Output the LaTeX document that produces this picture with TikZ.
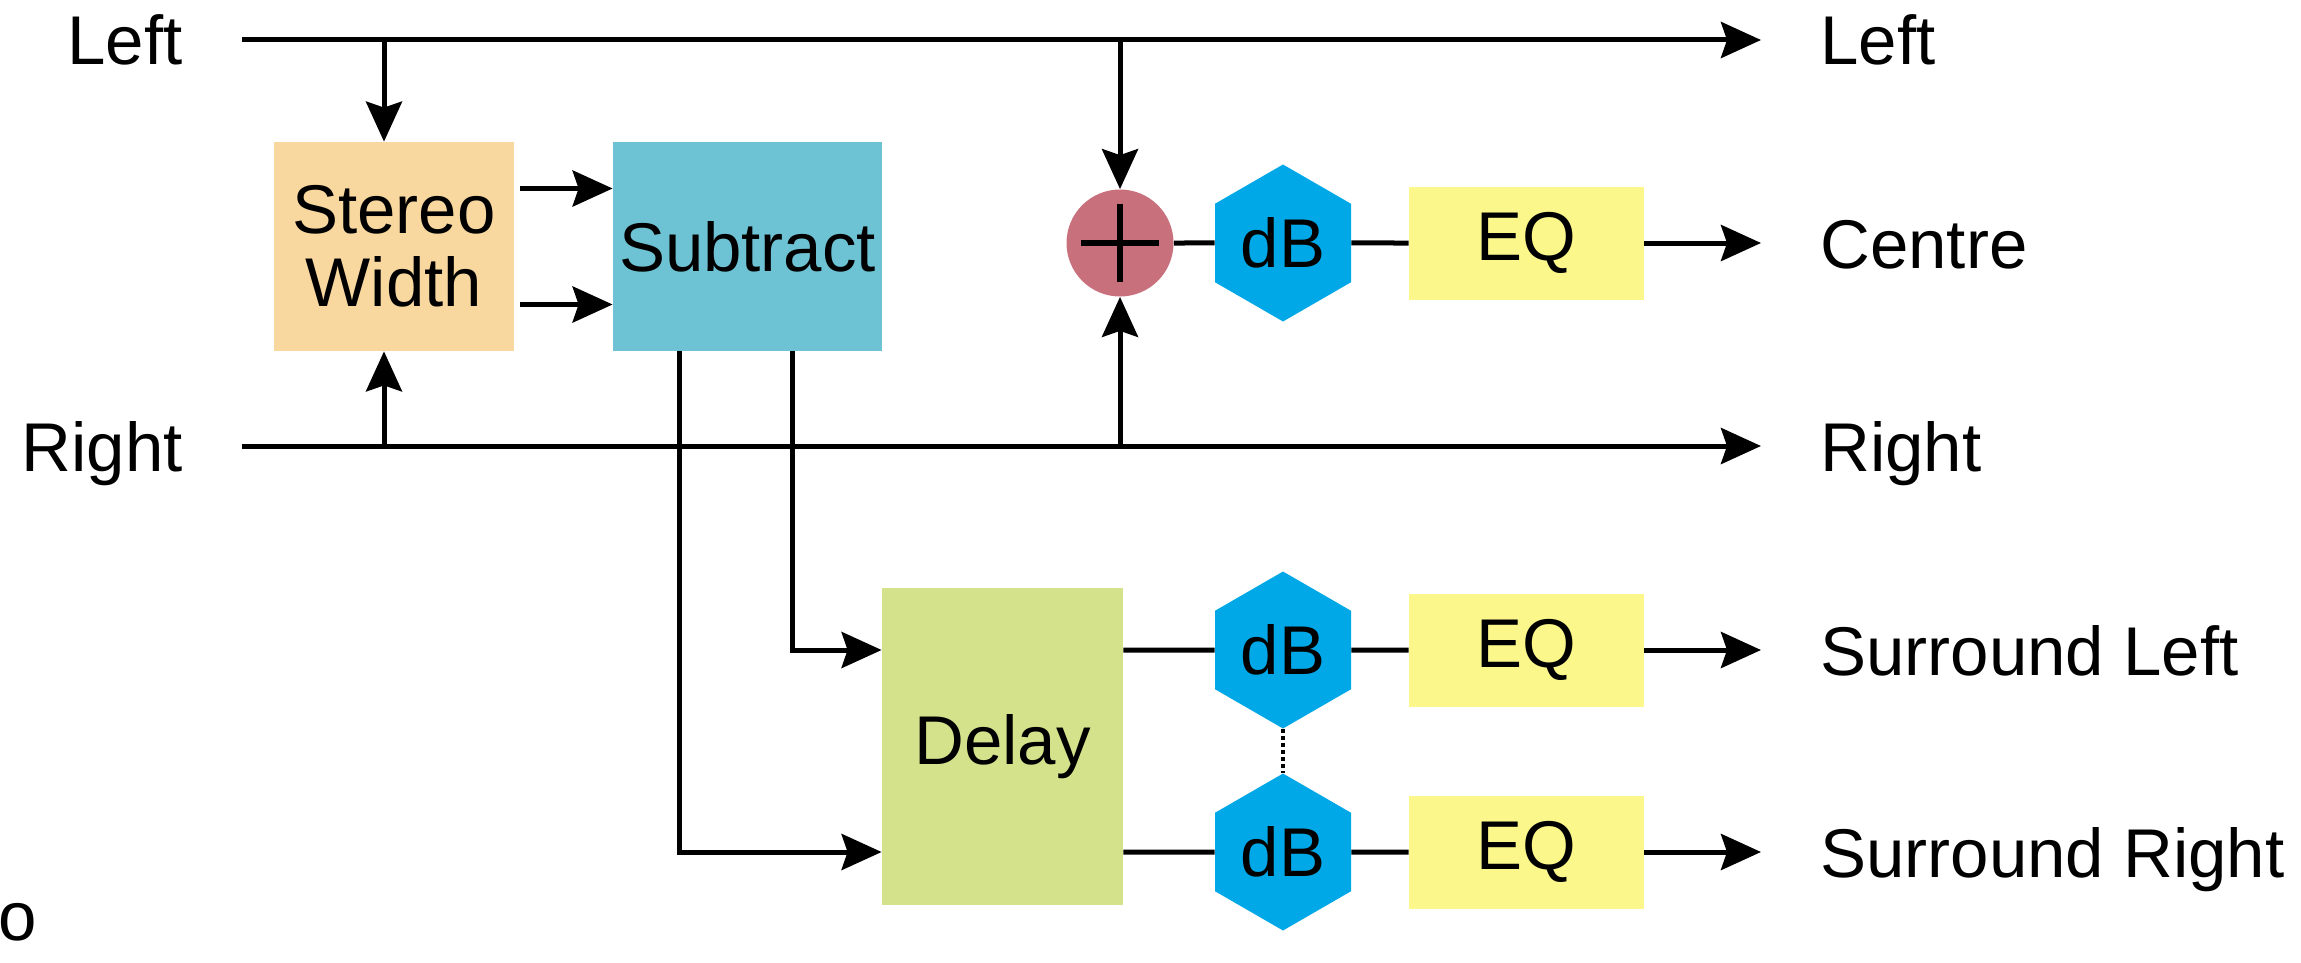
\documentclass[tikz,border=0pt]{standalone}
\usepackage{fontspec}
\setmainfont{Liberation Sans}
\usetikzlibrary{arrows.meta,shapes.geometric}
\definecolor{swc}{HTML}{F9D8A0}
\definecolor{subc}{HTML}{6DC3D4}
\definecolor{delc}{HTML}{D4E38B}
\definecolor{eqc}{HTML}{FBF78B}
\definecolor{plc}{HTML}{C8707B}
\definecolor{dbc}{HTML}{00A8E8}
\begin{document}
\begin{tikzpicture}[x=0.5pt,y=-0.5pt,
  txt/.style={font=\fontsize{34.5}{36.7}\selectfont},
  lbl/.style={txt, inner sep=0pt},
  box/.style={txt, draw=none, inner sep=0pt, align=center},
  hexa/.style={txt, regular polygon, regular polygon sides=6, shape border rotate=30,
    minimum size=78.5pt, fill=dbc, inner sep=0pt},
  wire/.style={line width=2.5pt},
  arr/.style={wire, -{Stealth[length=20pt,width=18pt,inset=3pt]}},
]
\useasboundingbox (0,0) rectangle (2301,963);

% input / output labels
\node[lbl, anchor=base east] (inL) at (183,65) {Left};
\node[lbl, anchor=base east] (inR) at (183,471) {Right};
\node[lbl, anchor=base west] (outL) at (1820,65) {Left};
\node[lbl, anchor=base west] (outC) at (1820,268) {Centre};
\node[lbl, anchor=base west] (outR) at (1820,471) {Right};
\node[lbl, anchor=base west] (outSL) at (1820,675) {Surround Left};
\node[lbl, anchor=base west] (outSR) at (1820,877) {Surround Right};
\node[lbl, anchor=center] (frag) at (18,922) {o};

% line end points
\coordinate (Lin) at (242,40);
\coordinate (Lout) at (1761,40);
\coordinate (Rin) at (242,446);
\coordinate (Rout) at (1761,446);
\coordinate (Cout) at (1761,243);
\coordinate (SLout) at (1761,650);
\coordinate (SRout) at (1761,852);

% blocks
\node[box, fill=swc, minimum width=120pt, minimum height=104.5pt] (SW) at (394,246.5) {Stereo\\Width};
\node[box, fill=subc, minimum width=134.5pt, minimum height=104.5pt] (Sub) at (747.5,246.5) {Subtract};
\node[box, fill=delc, minimum width=120.5pt, minimum height=158.5pt] (Del) at (1002.5,746.5) {Delay};
\node[circle, fill=plc, minimum size=53.5pt, inner sep=0pt] (P) at (1120,243) {};
\node[hexa] (D1) at (1283,243) {dB};
\node[hexa] (D2) at (1283,650) {dB};
\node[hexa] (D3) at (1283,852) {dB};
\node[box, fill=eqc, minimum width=117.5pt, minimum height=56.5pt] (E1) at (1526.5,243) {EQ};
\node[box, fill=eqc, minimum width=117.5pt, minimum height=56.5pt] (E2) at (1526.5,650) {EQ};
\node[box, fill=eqc, minimum width=117.5pt, minimum height=56.5pt] (E3) at (1526.5,852) {EQ};

% plus sign
\draw[line width=2.8pt] ([xshift=-19.5pt]P.center) -- ([xshift=19.5pt]P.center);
\draw[line width=2.8pt] ([yshift=-19.5pt]P.center) -- ([yshift=19.5pt]P.center);

% main lines
\draw[arr] (Lin) -- (Lout);
\draw[arr] (Rin) -- (Rout);

% into stereo width
\draw[arr] ([xshift=-5pt]SW.north |- Lin) -- ([xshift=-5pt]SW.north);
\draw[arr] ([xshift=-5pt]SW.south |- Rin) -- ([xshift=-5pt]SW.south);

% stereo width to subtract
\draw[arr] ([xshift=3pt,yshift=29pt]SW.east) -- ([yshift=29pt]Sub.west);
\draw[arr] ([xshift=3pt,yshift=-29pt]SW.east) -- ([yshift=-29pt]Sub.west);

% subtract to delay
\draw[arr] ([xshift=-34.25pt]Sub.south) |- (Del.west |- D3.center);
\draw[arr] ([xshift=22.5pt]Sub.south) |- (Del.west |- D2.center);

% centre chain
\draw[arr] (P.north |- Lin) -- (P.north);
\draw[arr] (P.south |- Rin) -- (P.south);
\draw[wire] (P.east) -- (D1.west);
\draw[wire] (D1.east) -- (E1.west);
\draw[arr] (E1.east) -- (Cout);

% surround chains
\draw[wire] (Del.east |- D2.center) -- (D2.west);
\draw[wire] (D2.east) -- (E2.west);
\draw[arr] (E2.east) -- (SLout);
\draw[wire] (Del.east |- D3.center) -- (D3.west);
\draw[wire] (D3.east) -- (E3.west);
\draw[arr] (E3.east) -- (SRout);
\draw[line width=1.8pt, dash pattern=on 2pt off 1.5pt] (D2.south) -- (D3.north);
\end{tikzpicture}
\end{document}
